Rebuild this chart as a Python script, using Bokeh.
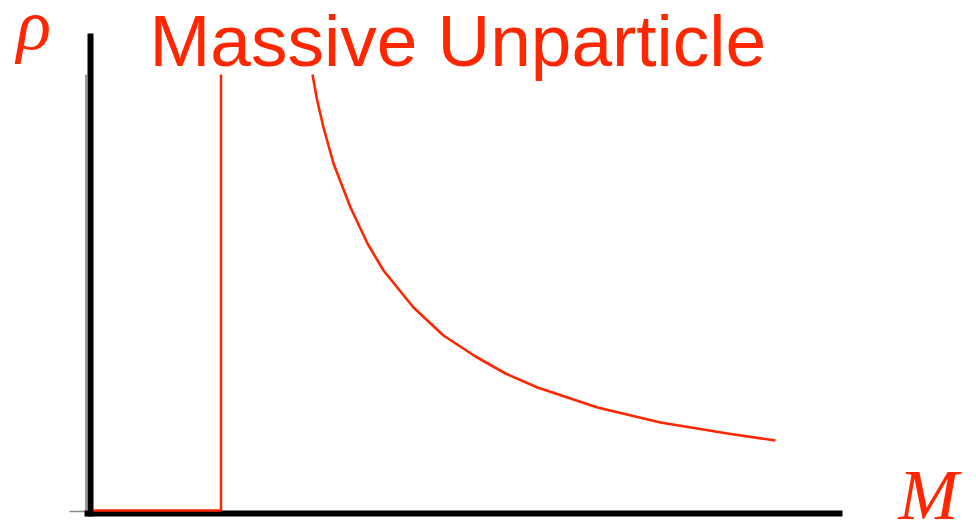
from bokeh.plotting import figure
from bokeh.models import Range1d, Label
from bokeh.embed import file_html
from bokeh.resources import INLINE

# ---- data (M, rho in arbitrary units) ----
curve_M   = [22.2, 22.67, 23.3, 24.3, 26.0, 27.7, 29.3, 32.3, 35.3, 38.5, 41.5, 44.7, 50.7, 57.0, 63.7, 68.5]
curve_rho = [43.9, 41.3, 38.6, 35.0, 30.6, 27.0, 24.3, 20.6, 17.8, 15.7, 14.0, 12.6, 10.6, 9.1, 8.0, 7.3]
mass_M    = [0.3, 13.05, 13.05]
mass_rho  = [0.3, 0.3, 43.9]

title_text = "Massive Unparticle"
y_label = "ρ"
x_label = "M"

# axis extents
x_axis_M = [-0.6, 75.2]
y_axis_rho = [-0.3, 48.0]

RED = "#ff2600"

p = figure(width=976, height=522, output_backend="svg", toolbar_location=None,
           x_range=Range1d(-9.0, 88.6), y_range=Range1d(-0.9, 51.3),
           min_border=0, min_border_left=0, min_border_right=0,
           min_border_top=0, min_border_bottom=0)
p.axis.visible = False
p.grid.visible = False
p.outline_line_color = None
p.background_fill_color = "white"
p.border_fill_color = "white"

# faint original axis line + zero tick
p.line([-0.45, -0.45], [-0.2, 43.9], line_color="#9a9a9a", line_width=2)
p.line([-2.1, -0.45], [0.2, 0.2], line_color="#8a8a8a", line_width=1.5)

# thick black axes
p.line([0, 0], y_axis_rho, line_color="black", line_width=6)
p.line(x_axis_M, [0, 0], line_color="black", line_width=6)

# data
p.line(mass_M, mass_rho, line_color=RED, line_width=2.5)
p.line(curve_M, curve_rho, line_color=RED, line_width=2.6)

p.add_layout(Label(x=5.9, y=47.3, text=title_text, text_font="Liberation Sans",
                   text_font_size="73px", text_color=RED, text_baseline="alphabetic"))
p.add_layout(Label(x=-7.4, y=48.9, text=y_label, text_font="Liberation Serif",
                   text_font_style="italic", text_font_size="72px", text_color=RED,
                   text_baseline="alphabetic"))
p.add_layout(Label(x=80.8, y=1.9, text=x_label, text_font="Liberation Serif",
                   text_font_style="italic", text_font_size="72px", text_color=RED,
                   text_baseline="alphabetic"))

open("out.html", "w").write(file_html(p, INLINE))
